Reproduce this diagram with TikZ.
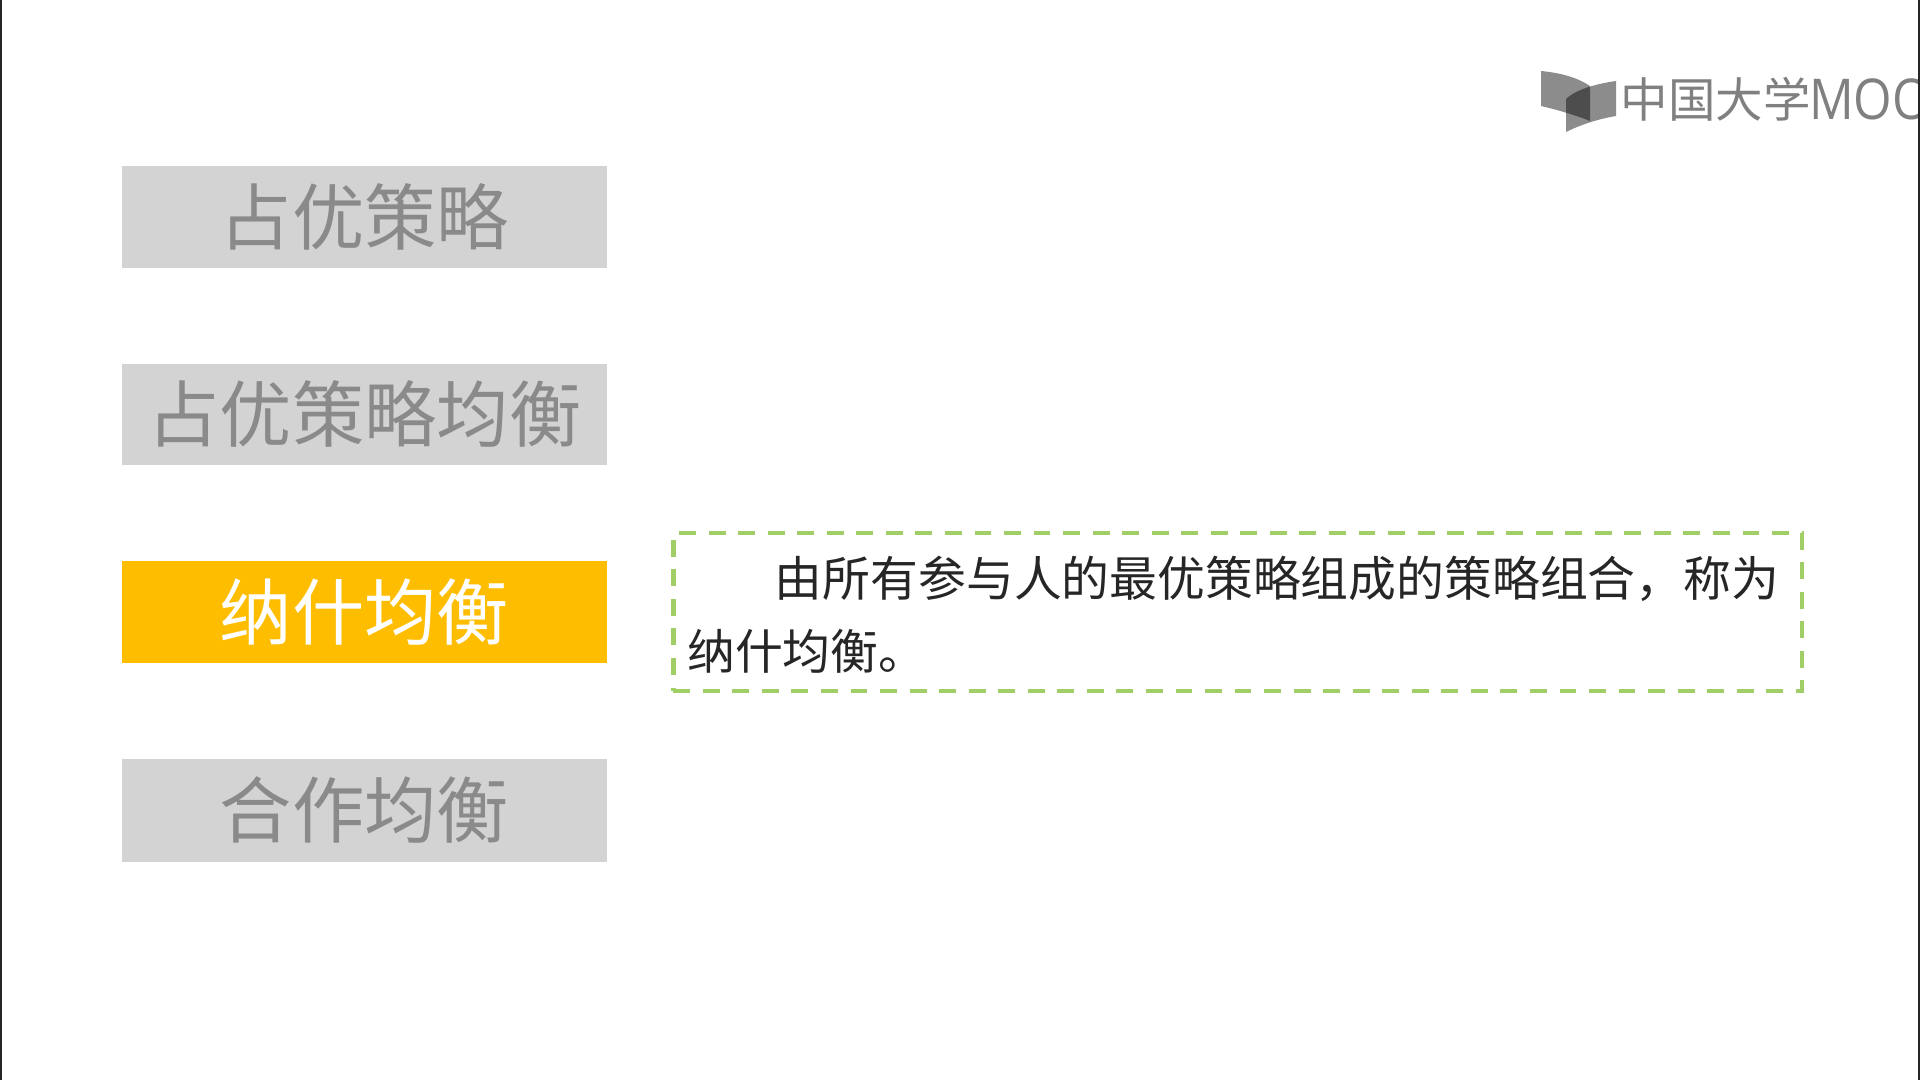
\documentclass[tikz,border=0pt]{standalone}
\usepackage{fontspec}
\setmainfont{Noto Sans CJK SC}
\newfontfamily\latinfont[FakeStretch=0.88]{Open Sans}
\usetikzlibrary{positioning}
\definecolor{boxgrey}{HTML}{D3D3D3}
\definecolor{textgrey}{HTML}{8A8A8A}
\definecolor{amber}{HTML}{FFBD00}
\definecolor{dashgreen}{HTML}{A2CE68}
\definecolor{logogrey}{HTML}{808080}
\begin{document}
\begin{tikzpicture}[x=0.01cm,y=-0.01cm,node distance=0.95cm]
\tikzstyle{strat}=[rectangle,fill=boxgrey,text=textgrey,minimum width=4.855cm,minimum height=1.01cm,inner sep=0pt,text height=18pt,text depth=2.5pt,font=\fontsize{20.55}{24}\selectfont]
\tikzstyle{aktiv}=[strat,fill=amber,text=white]
\tikzstyle{erkl}=[rectangle,draw=dashgreen,line width=1.25pt,dash pattern=on 4.8pt off 3.6pt,minimum width=11.28cm,minimum height=1.58cm,inner sep=0pt,text width=11cm,text=black!85,text depth=20.4pt,align=left,font=\fontsize{13.6}{20.9}\selectfont]
\tikzstyle{logotext}=[text=logogrey,inner sep=0pt,anchor=west]
\useasboundingbox (0,0) rectangle (1920,1080);
\fill[black!85] (0,0) rectangle (2,1080);
\fill[black!85] (1917.5,0) rectangle (1920,1080);
\node[strat] (dom) at (364.5,217) {占优策略};
\node[strat] (domgg) [below=of dom] {占优策略均衡};
\node[aktiv] (nash) [below=of domgg] {纳什均衡};
\node[strat,minimum height=1.03cm] (koop) [below=of nash] {合作均衡};
\node[erkl] (def) [right=0.63cm of nash] {\hspace*{0.875cm}由所有参与人的最优策略组成的策略组合，称为\\纳什均衡。};
% logo
\fill[black,opacity=.45] (1541,71) .. controls (1562,73) and (1578,78) .. (1590,86) -- (1590,121) .. controls (1575,115) and (1558,110) .. (1541,106) -- cycle;
\fill[black,opacity=.45] (1616,81) .. controls (1595,84) and (1575,90) .. (1566,99) -- (1566,132) .. controls (1580,125) and (1598,119) .. (1616,116) -- cycle;
\node[logotext,font=\fontsize{13.5}{16}\selectfont] (logocn) at (1620,99) {中国大学};
\begin{scope}
\clip (1800,60) rectangle (1917.5,140);
\node[logotext,font=\latinfont\fontsize{16}{18}\selectfont,right=-0.03cm of logocn] (logoen) {MOOC};
\end{scope}
\end{tikzpicture}
\end{document}
